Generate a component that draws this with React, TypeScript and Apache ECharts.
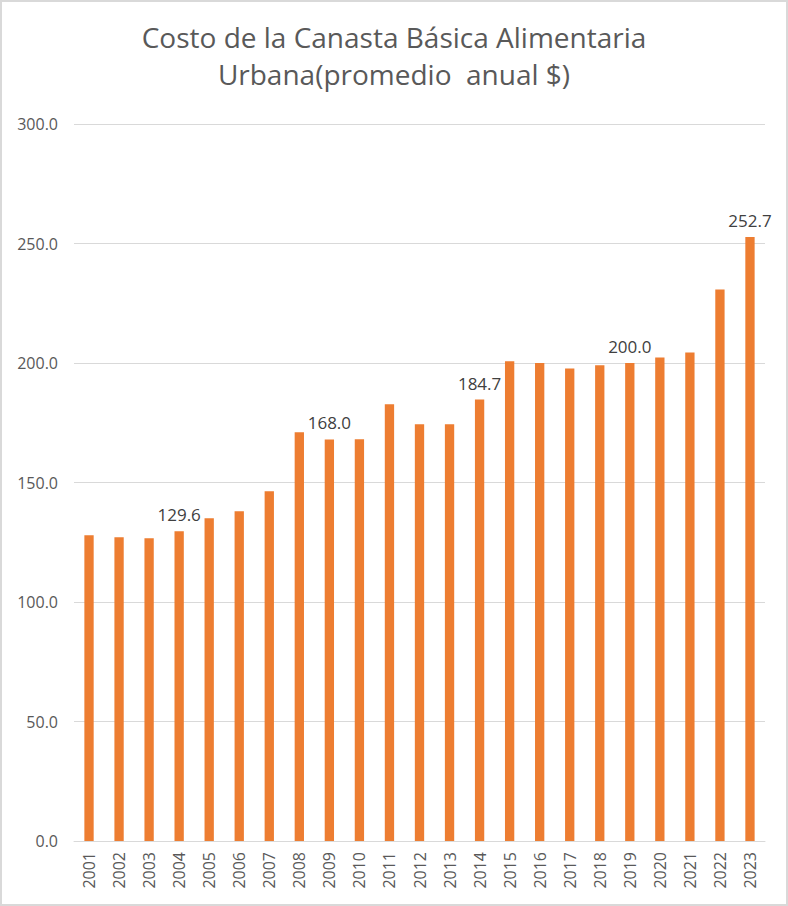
import React, { useEffect, useRef } from "react";
import * as echarts from "echarts";

const years = [
  "2001", "2002", "2003", "2004", "2005", "2006", "2007", "2008", "2009", "2010", "2011", "2012",
  "2013", "2014", "2015", "2016", "2017", "2018", "2019", "2020", "2021", "2022", "2023",
];
const costs = [
  127.9, 127.1, 126.7, 129.6, 135.0, 138.0, 146.3, 171.0, 168.0, 168.1, 182.7, 174.4,
  174.4, 184.7, 200.7, 200.0, 197.7, 199.1, 200.0, 202.3, 204.4, 230.8, 252.7,
];
const labelledYears = ["2004", "2009", "2014", "2019", "2023"];
const yTicks = { min: 0, max: 300, interval: 50 };

const FONT = "'Open Sans', 'Noto Sans', sans-serif";

export default function App() {
  const ref = useRef<HTMLDivElement>(null);

  useEffect(() => {
    document.body.style.margin = "0";
    if (!ref.current) return;
    const chart = echarts.init(ref.current, undefined, { renderer: "svg" });
    chart.setOption({
      animation: false,
      backgroundColor: "#ffffff",
      textStyle: { fontFamily: FONT },
      title: {
        text: "Costo de la Canasta Básica Alimentaria\nUrbana(promedio  anual $)",
        left: "center",
        top: 11,
        textStyle: {
          fontFamily: FONT,
          fontSize: 28,
          fontWeight: "normal",
          color: "#595959",
          lineHeight: 37,
        },
      },
      grid: { left: 72, right: 21, top: 122, bottom: 63, containLabel: false },
      xAxis: {
        type: "category",
        data: years,
        axisLine: { lineStyle: { color: "#d9d9d9", width: 1 } },
        axisTick: { show: false },
        axisLabel: {
          rotate: 90,
          margin: 11,
          color: "#595959",
          fontSize: 16,
          fontFamily: FONT,
        },
      },
      yAxis: {
        type: "value",
        min: yTicks.min,
        max: yTicks.max,
        interval: yTicks.interval,
        axisLine: { show: false },
        axisTick: { show: false },
        splitLine: { lineStyle: { color: "#d9d9d9", width: 1 } },
        axisLabel: {
          margin: 16,
          color: "#595959",
          fontSize: 16,
          fontFamily: FONT,
          formatter: (v: number) => v.toFixed(1),
        },
      },
      series: [
        {
          type: "bar",
          barWidth: "31%",
          itemStyle: { color: "#ed7d31" },
          data: costs.map((v, i) => ({
            value: v,
            label: {
              show: labelledYears.includes(years[i]),
              position: "top",
              distance: 8,
              color: "#404040",
              fontSize: 17,
              fontFamily: FONT,
              formatter: (p: any) => Number(p.value).toFixed(1),
            },
          })),
        },
      ],
    });
    return () => chart.dispose();
  }, []);

  return (
    <div
      style={{
        position: "absolute",
        left: 0,
        top: 0,
        width: 788,
        height: 906,
        boxSizing: "border-box",
        border: "2px solid #d9d9d9",
        background: "#fff",
      }}
    >
      <div ref={ref} style={{ width: 784, height: 902 }} />
    </div>
  );
}
